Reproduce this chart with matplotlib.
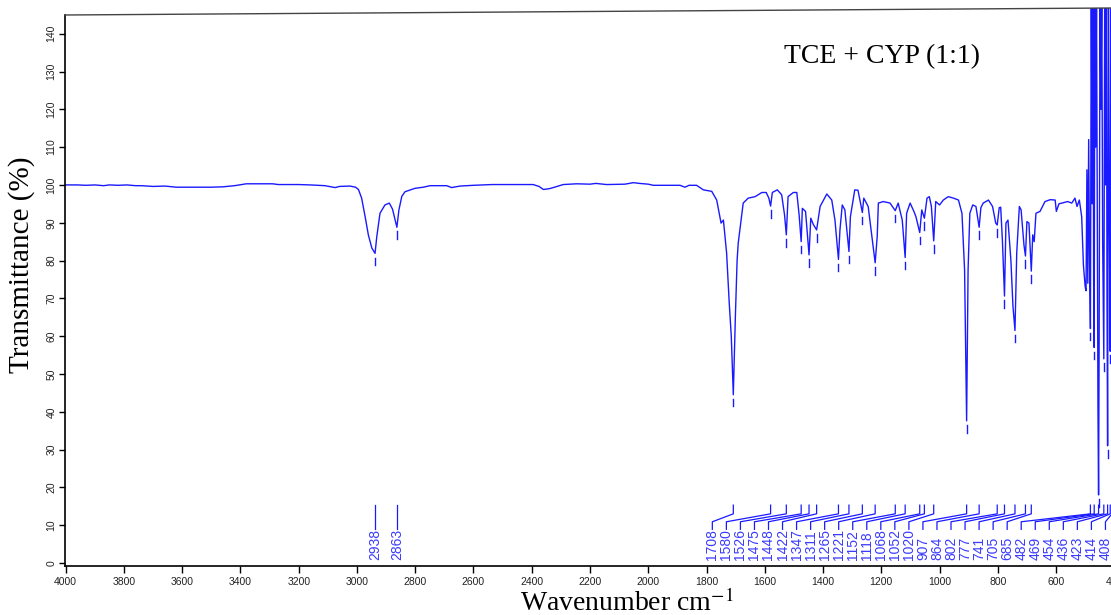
import matplotlib
matplotlib.use("Agg")
import matplotlib.pyplot as plt
from matplotlib.lines import Line2D
import numpy as np

plt.rcParams['mathtext.fontset'] = 'stix'

# spectrum (wavenumber, transmittance)
wavenumber = [
    4000, 3960, 3930, 3900, 3870, 3850, 3820, 3790, 3760, 3740, 3700, 3660, 3620, 3560,
    3500, 3460, 3420, 3380, 3330, 3290, 3270, 3200, 3160, 3110, 3075, 3060, 3024, 3005,
    2995, 2984, 2972, 2961, 2949, 2938, 2932, 2921, 2904, 2889, 2878, 2863, 2856, 2846,
    2835, 2824, 2801, 2772, 2749, 2692, 2675, 2646, 2600, 2537, 2450, 2395, 2375, 2360,
    2340, 2326, 2292, 2246, 2200, 2180, 2143, 2080, 2051, 2030, 2000, 1983, 1940, 1891,
    1874, 1860, 1834, 1811, 1782, 1765, 1750, 1742, 1731, 1722, 1715, 1708, 1701, 1695,
    1691, 1674, 1657, 1633, 1610, 1595, 1586, 1580, 1574, 1557, 1542, 1532, 1526, 1520,
    1502, 1490, 1482, 1475, 1471, 1460, 1448, 1442, 1433, 1422, 1410, 1387, 1370, 1359,
    1347, 1342, 1334, 1325, 1311, 1306, 1291, 1280, 1265, 1260, 1245, 1232, 1221, 1214,
    1210, 1193, 1170, 1152, 1142, 1128, 1118, 1113, 1101, 1088, 1081, 1068, 1061, 1052,
    1043, 1035, 1028, 1020, 1013, 1000, 987, 970, 952, 935, 923, 914, 907, 902, 896,
    886, 875, 864, 858, 850, 832, 818, 807, 802, 795, 790, 784, 777, 772, 765, 755, 748,
    741, 735, 726, 720, 710, 705, 700, 693, 685, 680, 675, 669, 655, 638, 620, 603, 599,
    590, 580, 560, 546, 535, 528, 520, 512, 506, 500, 497, 494, 491, 488, 485, 482, 479,
    476, 473, 471, 469, 467, 464, 461, 458, 456, 454, 452, 449, 446, 443, 440, 436, 433,
    430, 427, 425, 423, 420, 417, 414, 412, 410, 408, 405, 402, 400,
]
transmittance = [
    100.0, 100.0, 99.9, 100.0, 99.8, 100.0, 99.9, 100.0, 99.8, 99.8, 99.6, 99.7, 99.4, 99.4,
    99.4, 99.5, 99.8, 100.3, 100.3, 100.3, 100.1, 100.1, 100.0, 99.8, 99.3, 99.6, 99.7, 99.4,
    98.8, 96.5, 91.6, 86.8, 83.3, 81.9, 86.3, 92.5, 94.7, 95.2, 93.6, 88.8, 93.4, 97.0,
    98.2, 98.5, 99.1, 99.4, 99.8, 99.8, 99.3, 99.7, 99.9, 100.1, 100.1, 100.1, 99.6, 98.8,
    99.0, 99.3, 100.1, 100.3, 100.2, 100.4, 100.1, 100.2, 100.6, 100.4, 100.2, 99.9, 99.9, 99.9,
    99.4, 99.9, 99.9, 98.7, 98.3, 96.0, 89.9, 90.7, 82.0, 68.8, 60.0, 44.5, 65.0, 80.0,
    84.7, 95.2, 96.5, 96.9, 98.0, 98.0, 96.5, 94.4, 98.0, 98.7, 97.4, 92.0, 86.8, 96.9,
    98.0, 98.0, 92.0, 85.0, 93.8, 93.0, 81.5, 91.2, 89.5, 88.1, 94.3, 97.6, 96.0, 90.7,
    80.3, 88.0, 94.7, 93.4, 82.4, 91.6, 98.7, 98.6, 92.7, 96.5, 94.3, 86.3, 79.4, 86.3,
    95.2, 95.6, 95.2, 93.2, 95.2, 90.7, 80.8, 92.5, 95.2, 93.0, 91.6, 87.4, 93.4, 91.2,
    96.5, 96.9, 94.3, 85.2, 95.6, 94.7, 96.0, 96.9, 96.5, 96.0, 92.5, 77.5, 37.6, 77.5, 92.5,
    94.7, 94.3, 88.8, 94.0, 95.2, 96.0, 94.3, 89.9, 89.4, 94.0, 94.1, 85.0, 70.6, 89.9, 90.7, 80.0, 68.0,
    61.5, 82.0, 94.3, 93.4, 84.0, 81.2, 90.3, 89.9, 77.2, 86.8, 85.0, 92.5, 93.0, 95.6, 96.1, 96.0, 93.0,
    95.0, 95.2, 95.6, 95.2, 96.5, 94.3, 96.0, 91.6, 78.8, 73.1, 72.0, 104.0, 74.0, 112.0, 80.0, 62.0, 150.0,
    95.0, 150.0, 75.0, 57.0, 150.0, 110.0, 150.0, 80.0, 40.0, 18.0, 60.0, 150.0, 120.0, 150.0, 85.0, 54.0, 150.0,
    100.0, 150.0, 70.0, 31.0, 150.0, 90.0, 56.0, 150.0, 110.0, 53.0, 150.0, 130.0, 150.0,
]

# labelled peaks
peaks_ch = [2938, 2863]
peaks_fp = [1708, 1580, 1526, 1475, 1448, 1422, 1347, 1311, 1265, 1221, 1152, 1118,
            1068, 1052, 1020, 907, 864, 802, 777, 741, 705, 685, 482, 469, 454, 436,
            423, 414, 408]

blue = '#1a1aff'

fig = plt.figure(figsize=(11.11, 6.15), dpi=100)
W, H = 1111, 615
ax = fig.add_axes([65 / W, 1 - 566 / H, (1114.3 - 65) / W, (566 - 8) / H])

ax.plot(wavenumber, transmittance, color=blue, lw=1.0)
ax.set_xlim(4002.4, 400)
ax.set_ylim(-0.8, 146.8)

# peak markers and leader lines
lookup = dict(zip(wavenumber, transmittance))
label_x = list(peaks_ch) + list(np.linspace(1780, 430.4, len(peaks_fp)))
for p, lx in zip(peaks_ch + peaks_fp, label_x):
    t = lookup[p]
    ax.plot([p, p], [t - 1.1, t - 3.1], color=blue, lw=1.0)
    ax.plot([p, p, lx, lx], [15.3, 13.0, 10.9, 8.9], color=blue, lw=0.9)
    ax.text(lx, 0.8, str(p), rotation=90, ha='center', va='bottom', fontsize=10,
            color='#3a3aff', family='Liberation Sans')

ax.set_xticks(range(4000, 399, -200))
ax.set_yticks(range(0, 141, 10))
ax.tick_params(axis='x', direction='out', length=5, width=1, pad=3, labelsize=7.5)
ax.tick_params(axis='y', direction='out', length=4, width=1, pad=2, labelsize=7.5)
for lab in ax.get_xticklabels() + ax.get_yticklabels():
    lab.set_family('Liberation Sans')
    lab.set_color('#222222')
for lab in ax.get_yticklabels():
    lab.set_rotation(90)
    lab.set_va('center')

ax.spines['top'].set_visible(False)
ax.spines['right'].set_visible(False)
ax.spines['left'].set_bounds(-0.8, 145)
ax.spines['left'].set_linewidth(1.2)
ax.spines['bottom'].set_linewidth(1.2)

# slanted top frame line
fig.add_artist(Line2D([65 / W, 1.0], [1 - 15 / H, 1 - 8 / H], transform=fig.transFigure,
                      color='#444444', lw=1.0))

fig.text(882 / W, 1 - 63 / H, 'TCE + CYP (1:1)', ha='center', va='baseline',
         fontsize=20, family='Liberation Serif')
fig.text(627 / W, 1 - 611 / H, 'Wavenumber cm$^{-1}$', ha='center', va='baseline',
         fontsize=20, family='Liberation Serif')
fig.text(22 / W, 1 - 265 / H, 'Transmittance (%)', ha='center', va='center', rotation=90,
         fontsize=21, family='Liberation Serif')

fig.savefig('out.png', dpi=100)
